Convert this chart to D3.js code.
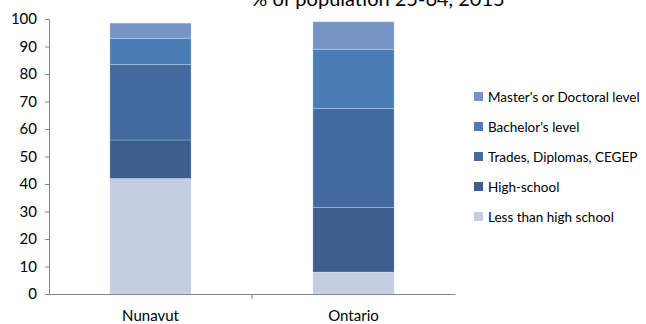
<!DOCTYPE html>
<html>
<head>
<meta charset="utf-8">
<script src="https://cdn.jsdelivr.net/npm/d3@7"></script>
<style>
  html, body { margin: 0; padding: 0; background: #fff; }
  svg { display: block; font-family: Lato, "Open Sans", sans-serif; }
</style>
</head>
<body>
<svg id="chart" width="646" height="324"></svg>
<script>
// Educational attainment, % of population aged 25-64
const regions = ["Nunavut", "Ontario"];
const levels = ["Less than high school", "High-school", "Trades, Diplomas, CEGEP", "Bachelor's level", "Master's or Doctoral level"];
const nunavutValues = [42, 14, 27.5, 9.5, 5.5];
const ontarioValues = [8, 23.5, 36, 21.5, 10];
const yTicks = [0, 10, 20, 30, 40, 50, 60, 70, 80, 90, 100];
const levelColors = ["#c3cee2", "#3b5e8c", "#426ba0", "#4a7cb6", "#7494c6"];
const titleText = "% of population 25-64, 2015";

const svg = d3.select("#chart");
const margin = { left: 49, right: 191, top: 19, bottom: 30 };
const width = 646, height = 324;
const plotRight = width - margin.right;
const plotBottom = height - margin.bottom;

const x = d3.scaleBand().domain(regions).range([margin.left, plotRight]).paddingInner(0.6).paddingOuter(0.3);
const xBand = d3.scaleBand().domain(regions).range([margin.left, plotRight]);
const y = d3.scaleLinear().domain([0, 100]).range([plotBottom, margin.top]);
const color = d3.scaleOrdinal().domain(levels).range(levelColors);

const rows = regions.map((r, i) => {
  const vals = i === 0 ? nunavutValues : ontarioValues;
  const row = { region: r };
  levels.forEach((l, j) => row[l] = vals[j]);
  return row;
});
const series = d3.stack().keys(levels)(rows);

// title, sitting at the very top edge
svg.append("text")
  .attr("x", 378).attr("y", 6)
  .attr("text-anchor", "middle")
  .attr("font-size", 20).attr("fill", "#000")
  .text(titleText);

// stacked bars
svg.append("g").selectAll("g").data(series).join("g")
  .attr("fill", d => color(d.key))
  .selectAll("rect").data(d => d).join("rect")
  .attr("x", d => x(d.data.region))
  .attr("width", x.bandwidth())
  .attr("y", d => y(d[1]))
  .attr("height", d => y(d[0]) - y(d[1]))
  .attr("stroke", "rgba(255,255,255,0.3)")
  .attr("stroke-width", 0.8);

// y axis
const yAxis = svg.append("g")
  .attr("transform", `translate(${margin.left},0)`)
  .call(d3.axisLeft(y).tickValues(yTicks).tickSize(4).tickPadding(8));
yAxis.select(".domain").attr("stroke", "#868686");
yAxis.selectAll(".tick line").attr("stroke", "#868686");
yAxis.selectAll(".tick text").attr("font-size", 15).attr("fill", "#000")
  .attr("font-family", "Lato, sans-serif");

// x axis
const xAxis = svg.append("g")
  .attr("transform", `translate(0,${plotBottom})`)
  .call(d3.axisBottom(xBand).tickSize(0).tickPadding(16));
xAxis.select(".domain").attr("stroke", "#868686");
xAxis.selectAll(".tick text").attr("font-size", 15).attr("fill", "#000")
  .attr("font-family", "Lato, sans-serif");
// divider ticks between categories
xAxis.selectAll(".divider").data(regions.slice(1)).join("line")
  .attr("x1", d => xBand(d)).attr("x2", d => xBand(d))
  .attr("y1", 0).attr("y2", 5)
  .attr("stroke", "#868686");

// legend, top entry is the top of the stack
const legend = svg.append("g").attr("transform", "translate(474,97)");
const legendItems = legend.selectAll("g").data(levels.slice().reverse()).join("g")
  .attr("transform", (d, i) => `translate(0,${i * 30})`);
legendItems.append("rect")
  .attr("x", 0).attr("y", -5).attr("width", 9).attr("height", 9)
  .attr("fill", d => color(d));
legendItems.append("text")
  .attr("x", 14).attr("y", 0).attr("dy", "0.35em")
  .attr("font-size", 13.5).attr("fill", "#000")
  .text(d => d);
</script>
</body>
</html>
